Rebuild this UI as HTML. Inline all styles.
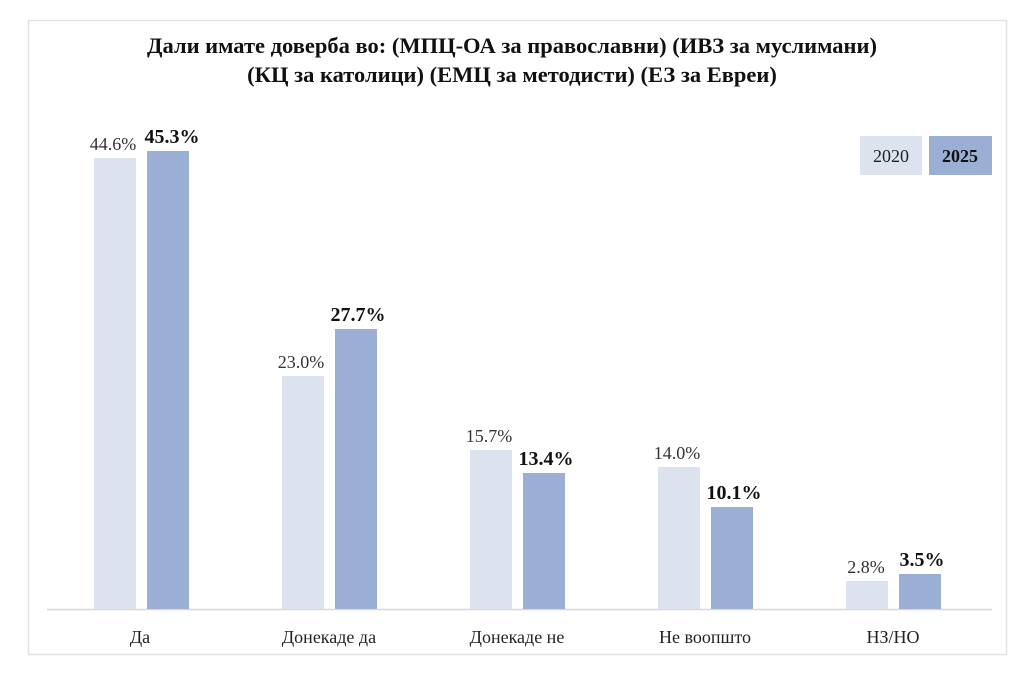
<!DOCTYPE html>
<html><head><meta charset="utf-8"><style>body{margin:0;background:#fff}svg{display:block}</style></head><body>
<svg width="1024" height="675" xmlns="http://www.w3.org/2000/svg" font-family="Liberation Serif, serif">
<rect x="0" y="0" width="1024" height="675" fill="#fff"/>
<rect x="28.5" y="20.5" width="978" height="634" fill="#fff" stroke="#e2e2e2" stroke-width="1.5"/>
<text x="512" y="53" text-anchor="middle" font-size="22.5" font-weight="bold" fill="#111">Дали имате доверба во: (МПЦ-ОА за православни) (ИВЗ за муслимани)</text>
<text x="512" y="82" text-anchor="middle" font-size="22.5" font-weight="bold" fill="#111">(КЦ за католици) (ЕМЦ за методисти) (ЕЗ за Евреи)</text>
<rect x="860" y="136" width="62" height="39" fill="#dce3ef"/>
<rect x="929" y="136" width="63" height="39" fill="#9aafd3"/>
<text x="891" y="162" text-anchor="middle" font-size="18" fill="#222">2020</text>
<text x="960" y="162" text-anchor="middle" font-size="18" font-weight="bold" fill="#111">2025</text>
<line x1="47" y1="609.5" x2="992" y2="609.5" stroke="#d8d8d8" stroke-width="1.5"/>
<g fill="#dce3ef">
<rect x="94" y="158" width="42" height="451"/>
<rect x="282" y="376" width="42" height="233"/>
<rect x="470" y="450" width="42" height="159"/>
<rect x="658" y="467" width="42" height="142"/>
<rect x="846" y="581" width="42" height="28"/>
</g>
<g fill="#9aafd3">
<rect x="147" y="151" width="42" height="458"/>
<rect x="335" y="329" width="42" height="280"/>
<rect x="523" y="473" width="42" height="136"/>
<rect x="711" y="507" width="42" height="102"/>
<rect x="899" y="574" width="42" height="35"/>
</g>
<g font-size="18" fill="#333" text-anchor="middle">
<text x="113" y="150">44.6%</text>
<text x="301" y="368">23.0%</text>
<text x="489" y="442">15.7%</text>
<text x="677" y="459">14.0%</text>
<text x="866" y="573">2.8%</text>
</g>
<g font-size="20" font-weight="bold" fill="#111" text-anchor="middle">
<text x="172" y="143">45.3%</text>
<text x="358" y="321">27.7%</text>
<text x="546" y="465">13.4%</text>
<text x="734" y="499">10.1%</text>
<text x="922" y="566">3.5%</text>
</g>
<g font-size="18" fill="#222" text-anchor="middle">
<text x="140" y="643">Да</text>
<text x="329" y="643">Донекаде да</text>
<text x="517" y="643">Донекаде не</text>
<text x="705" y="643">Не воопшто</text>
<text x="893" y="643">НЗ/НО</text>
</g>
</svg>
</body></html>
